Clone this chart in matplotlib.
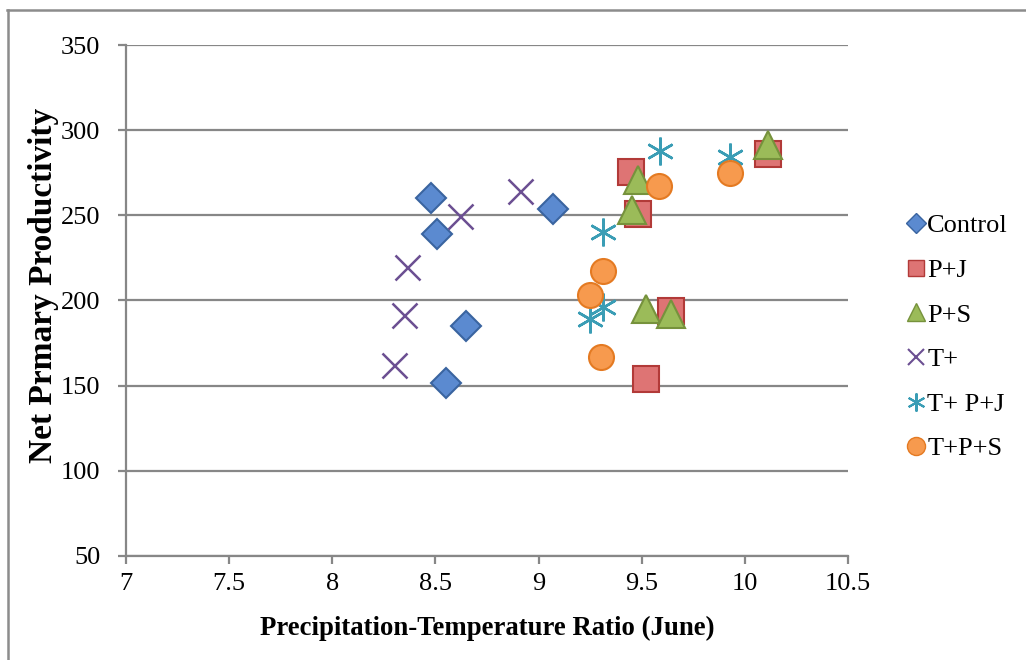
import matplotlib
matplotlib.use("Agg")
import matplotlib.pyplot as plt
from matplotlib.lines import Line2D

plt.rcParams['font.family'] = ['Liberation Serif', 'DejaVu Serif']

control_x = [8.48, 8.51, 8.65, 8.55, 9.07]
control_y = [260, 239, 185, 151.5, 253.5]
pj_x = [9.45, 9.48, 9.64, 9.52, 10.11]
pj_y = [275.5, 251, 194, 154, 286]
ps_x = [9.48, 9.455, 9.52, 9.64, 10.11]
ps_y = [271, 253, 195, 192, 291]
tp_x = [8.36, 8.35, 8.30, 8.62, 8.91]
tp_y = [219.5, 191.5, 162, 249.5, 264]
tpj_x = [9.59, 9.93, 9.31, 9.31, 9.25]
tpj_y = [287.5, 284.5, 240, 196, 189]
tps_x = [9.585, 9.93, 9.31, 9.25, 9.305]
tps_y = [267, 275, 217.5, 203.5, 167]

x_ticks = [7, 7.5, 8, 8.5, 9, 9.5, 10, 10.5]
x_labels = ['7', '7.5', '8', '8.5', '9', '9.5', '10', '10.5']
y_ticks = [50, 100, 150, 200, 250, 300, 350]
y_labels = ['50', '100', '150', '200', '250', '300', '350']

fig = plt.figure(figsize=(10.26, 6.6), dpi=100)
ax = fig.add_axes([126/1026, 1-556/660, (848-126)/1026, (556-45)/660])

grid_c = '#878787'
ax.set_xlim(7, 10.5)
ax.set_ylim(50, 350)
ax.set_yticks(y_ticks)
ax.set_yticklabels(y_labels)
ax.set_xticks(x_ticks)
ax.set_xticklabels(x_labels)
ax.yaxis.grid(True, color=grid_c, linewidth=1.6)
ax.set_axisbelow(True)
for s in ['top', 'right']:
    ax.spines[s].set_visible(False)
for s in ['left', 'bottom']:
    ax.spines[s].set_color(grid_c)
    ax.spines[s].set_linewidth(1.6)
ax.tick_params(axis='both', colors=grid_c, width=1.6, length=6, labelcolor='black', labelsize=19)
ax.tick_params(axis='x', pad=6.5)
ax.tick_params(axis='y', pad=12.5)

ax.set_xlabel('Precipitation-Temperature Ratio (June)', fontsize=19.3, fontweight='bold', labelpad=15)
ax.set_ylabel('Net Prmary Productivity', fontsize=24, fontweight='bold')
ax.yaxis.set_label_coords((59 - 126) / 722, 0.53)

ax.plot(control_x, control_y, linestyle='none', marker='D', ms=15, mfc='#5B8AD0', mec='#3A64A0', mew=1.5, label='Control')
ax.plot(pj_x, pj_y, linestyle='none', marker='s', ms=19, mfc='#DE7474', mec='#B23A38', mew=1.5, label='P+J')
ax.plot(ps_x, ps_y, linestyle='none', marker='^', ms=20, mfc='#9BBB59', mec='#76923C', mew=1.5, label='P+S')
ax.plot(tp_x, tp_y, linestyle='none', marker='x', ms=18, mec='#6B4F92', mew=1.8, label='T+')
ax.plot(tpj_x, tpj_y, linestyle='none', marker=(6, 2, 0), ms=20, mec='#3A9DB5', mew=1.8, label='T+ P+J')
ax.plot(tps_x, tps_y, linestyle='none', marker='o', ms=18, mfc='#F79A4E', mec='#E47A22', mew=1.5, label='T+P+S')

handles = [
    Line2D([], [], linestyle='none', marker='D', ms=10, mfc='#5B8AD0', mec='#3A64A0', mew=1),
    Line2D([], [], linestyle='none', marker='s', ms=12, mfc='#DE7474', mec='#B23A38', mew=1),
    Line2D([], [], linestyle='none', marker='^', ms=13, mfc='#9BBB59', mec='#76923C', mew=1),
    Line2D([], [], linestyle='none', marker='x', ms=12, mec='#6B4F92', mew=1.5),
    Line2D([], [], linestyle='none', marker=(6, 2, 0), ms=13, mec='#3A9DB5', mew=1.5),
    Line2D([], [], linestyle='none', marker='o', ms=13, mfc='#F79A4E', mec='#E47A22', mew=1),
]
labels = ['Control', 'P+J', 'P+S', 'T+', 'T+ P+J', 'T+P+S']
fig.legend(handles, labels, loc='upper left', bbox_to_anchor=(907/1026, 1-214/660),
           frameon=False, fontsize=19, handlelength=0.65, handletextpad=0.12,
           labelspacing=0.8, borderpad=0, borderaxespad=0)

# frame lines (top and left)
fig.add_artist(Line2D([7/1026, 1], [1-9.5/660, 1-9.5/660], color='#8C8C8C', linewidth=1.8, transform=fig.transFigure))
fig.add_artist(Line2D([7.5/1026, 7.5/1026], [0, 1-9.5/660], color='#8C8C8C', linewidth=1.8, transform=fig.transFigure))

fig.savefig('out.png', dpi=100)
